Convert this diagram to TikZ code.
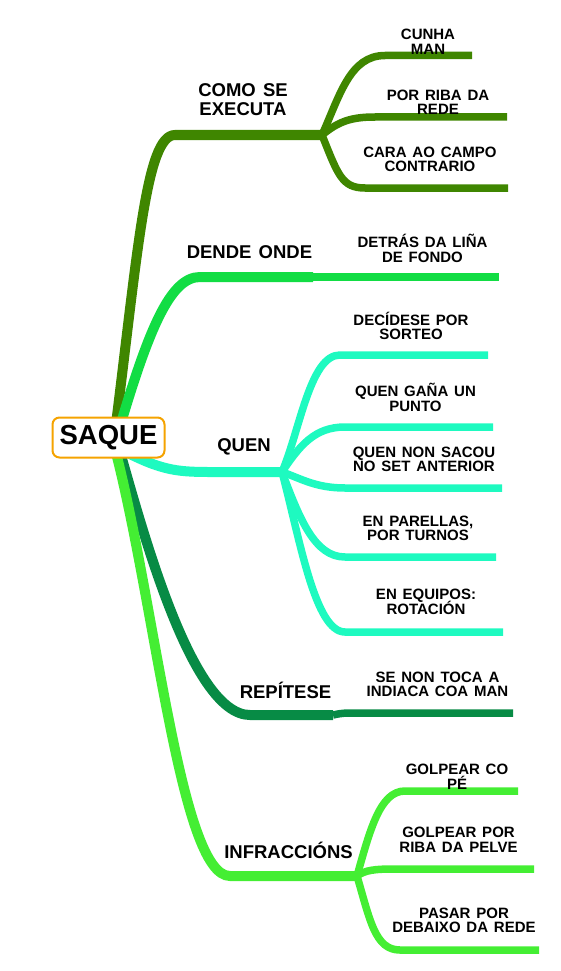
\documentclass[tikz,border=0pt]{standalone}
\usepackage{fontspec}
\setmainfont{Liberation Sans}[WordSpace=1.4]
\definecolor{cA}{RGB}{63,134,0}
\definecolor{cB}{RGB}{18,221,68}
\definecolor{cC}{RGB}{30,250,192}
\definecolor{cD}{RGB}{7,139,69}
\definecolor{cE}{RGB}{68,238,51}
\definecolor{corange}{RGB}{245,163,0}
\newcommand\mytightlines{\lineskiplimit=-100pt\relax}
\begin{document}
\begin{tikzpicture}[x=1pt,y=-1pt,
  mainline/.style={line width=10pt},
  subline/.style={line width=7.5pt},
  lab/.style={font=\bfseries\fontsize{18.5}{19.5}\selectfont\mytightlines,align=center,inner sep=0pt},
  leaf/.style={font=\bfseries\fontsize{15}{14.5}\selectfont\mytightlines,align=center,inner sep=0pt}]
\useasboundingbox (0,0) rectangle (560,971);
% hub coordinates
\coordinate (o1) at (114,440);
\coordinate (o2) at (116,440);
\coordinate (o3) at (118,448);
\coordinate (o4) at (118,445);
\coordinate (o5) at (114,445);
\coordinate (hA) at (322,135);
\coordinate (hB) at (313,277);
\coordinate (hC) at (282,472);
\coordinate (hD) at (333,715);
\coordinate (hE) at (357,876);
\coordinate (eA1) at (472,55.5);
\coordinate (eA2) at (507,117);
\coordinate (eA3) at (508,188);
\coordinate (eB1) at (499,277);
\coordinate (eC1) at (488,355);
\coordinate (eC2) at (493,427);
\coordinate (eC3) at (502,488);
\coordinate (eC4) at (496,557);
\coordinate (eC5) at (503,632);
\coordinate (eD1) at (513,713);
\coordinate (eE1) at (518,791);
\coordinate (eE2) at (534,869);
\coordinate (eE3) at (539,950);
% main branches
\draw[mainline,cA] (o1) .. controls (138,250) and (146,135) .. (175,135) -- (hA);
\draw[mainline,cB] (o2) .. controls (148,330) and (170,277) .. (200,277) -- (hB);
\draw[mainline,cC] (o3) .. controls (160,470) and (175,472) .. (210,472) -- (hC);
\draw[mainline,cD] (o4) .. controls (140,520) and (190,715) .. (250,715) -- (hD);
\draw[mainline,cE] (o5) .. controls (155,600) and (180,876) .. (230,876) -- (hE);
% sub branches
\draw[subline,cA] (hA) .. controls (340,95) and (350,55.5) .. (385,55.5) -- (eA1);
\draw[subline,cA] (hA) .. controls (338,122) and (350,117) .. (375,117) -- (eA2);
\draw[subline,cA] (hA) .. controls (338,175) and (342,188) .. (365,188) -- (eA3);
\draw[subline,cB] (hB) -- (eB1);
\draw[subline,cC] (hC) .. controls (300,430) and (310,355) .. (340,355) -- (eC1);
\draw[subline,cC] (hC) .. controls (300,445) and (315,427) .. (345,427) -- (eC2);
\draw[subline,cC] (hC) .. controls (300,478) and (315,488) .. (345,488) -- (eC3);
\draw[subline,cC] (hC) .. controls (300,520) and (315,557) .. (345,557) -- (eC4);
\draw[subline,cC] (hC) .. controls (300,540) and (315,632) .. (345,632) -- (eC5);
\draw[subline,cD] (hD) .. controls (342,713) and (345,713) .. (355,713) -- (eD1);
\draw[subline,cE] (hE) .. controls (370,830) and (380,791) .. (405,791) -- (eE1);
\draw[subline,cE] (hE) .. controls (365,870) and (375,869) .. (395,869) -- (eE2);
\draw[subline,cE] (hE) .. controls (370,920) and (375,950) .. (400,950) -- (eE3);
% root
\node[draw=corange,line width=2pt,rounded corners=7pt,fill=white,
  minimum width=112pt,minimum height=40pt,inner sep=0pt,
  font=\bfseries\fontsize{27.5}{30}\selectfont] (root) at (108.5,437.5) {SAQUE};
% labels
\node[lab] (lA) at (243,99.5) {COMO SE\\EXECUTA};
\node[lab] (lB) at (249.5,252) {DENDE ONDE};
\node[lab] (lC) at (244,447) {QUEN};
\node[lab] (lD) at (285.5,690) {REPÍTESE};
\node[lab] (lE) at (288.5,850) {INFRACCIÓNS};
% leaves
\node[leaf] (tA1) at (428,42) {CUNHA\\MAN};
\node[leaf] (tA2) at (438,102.5) {POR RIBA DA\\REDE};
\node[leaf] (tA3) at (430,159.5) {CARA AO CAMPO\\CONTRARIO};
\node[leaf] (tB1) at (422.5,248.5) {DETRÁS DA LIÑA\\DE FONDO};
\node[leaf] (tC1) at (411,326) {DECÍDESE POR\\SORTEO};
\node[leaf] (tC2) at (415.5,397.5) {QUEN GAÑA UN\\PUNTO};
\node[leaf] (tC3) at (424,459.5) {QUEN NON SACOU\\NO SET ANTERIOR};
\node[leaf] (tC4) at (418,528.5) {EN PARELLAS,\\POR TURNOS};
\node[leaf] (tC5) at (426,602) {EN EQUIPOS:\\ROTACIÓN};
\node[leaf] (tD1) at (437.5,684.5) {SE NON TOCA A\\INDIACA COA MAN};
\node[leaf] (tE1) at (457,777) {GOLPEAR CO\\PÉ};
\node[leaf] (tE2) at (458.5,840) {GOLPEAR POR\\RIBA DA PELVE};
\node[leaf] (tE3) at (464,920.5) {PASAR POR\\DEBAIXO DA REDE};
\end{tikzpicture}
\end{document}
